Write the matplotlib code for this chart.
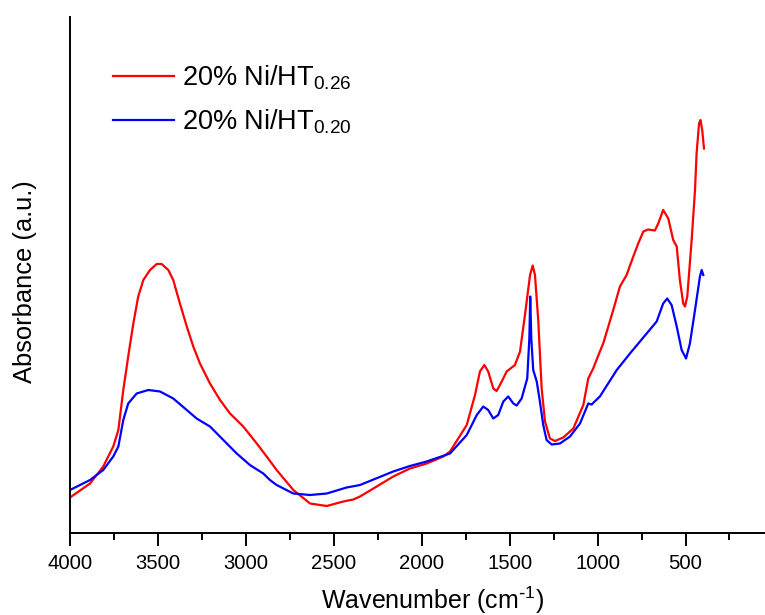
import numpy as np
import matplotlib as mpl
import matplotlib.pyplot as plt
from matplotlib.ticker import MultipleLocator

plt.rcParams['font.family'] = ['Liberation Sans', 'DejaVu Sans']
plt.rcParams['mathtext.default'] = 'regular'

# FTIR spectra, values (absorbance in a.u.)
wn_red = [4000, 3886, 3811, 3754, 3725, 3697, 3669, 3640, 3612, 3583,
          3545, 3507, 3479, 3441, 3413, 3375, 3336, 3299, 3261, 3204,
          3147, 3090, 3015, 2938, 2882, 2825, 2730, 2635, 2540, 2446,
          2389, 2351, 2256, 2162, 2067, 1972, 1877, 1839, 1744, 1697,
          1669, 1644, 1622, 1593, 1574, 1545, 1517, 1470, 1441, 1413,
          1384, 1369, 1356, 1337, 1318, 1299, 1271, 1242, 1195, 1138,
          1081, 1053, 1025, 987, 968, 911, 873, 835, 797, 769,
          740, 712, 674, 655, 627, 598, 570, 550, 532, 513,
          503, 490, 465, 446, 437, 423, 415, 405, 395]
ab_red = [0.071, 0.099, 0.133, 0.173, 0.206, 0.286, 0.353, 0.419, 0.473, 0.506,
          0.526, 0.538, 0.538, 0.526, 0.506, 0.459, 0.413, 0.373, 0.339, 0.299,
          0.266, 0.239, 0.213, 0.179, 0.153, 0.126, 0.086, 0.059, 0.054, 0.063,
          0.067, 0.073, 0.093, 0.113, 0.129, 0.139, 0.153, 0.163, 0.216, 0.276,
          0.323, 0.336, 0.323, 0.289, 0.284, 0.303, 0.323, 0.336, 0.363, 0.436,
          0.516, 0.535, 0.516, 0.423, 0.289, 0.223, 0.189, 0.184, 0.191, 0.209,
          0.256, 0.309, 0.329, 0.363, 0.379, 0.446, 0.493, 0.516, 0.553, 0.579,
          0.603, 0.607, 0.605, 0.619, 0.646, 0.629, 0.586, 0.573, 0.506, 0.459,
          0.453, 0.473, 0.586, 0.686, 0.759, 0.819, 0.826, 0.806, 0.769]

wn_blue = [4000, 3886, 3811, 3754, 3725, 3697, 3669, 3621, 3555, 3488,
           3413, 3336, 3280, 3204, 3128, 3052, 2977, 2901, 2863, 2825,
           2730, 2635, 2540, 2427, 2351, 2162, 2067, 1972, 1839, 1744,
           1687, 1650, 1622, 1593, 1565, 1536, 1508, 1479, 1460, 1432,
           1400, 1388, 1383, 1377, 1366, 1346, 1328, 1309, 1290, 1261,
           1214, 1157, 1100, 1053, 1034, 987, 891, 816, 721, 664,
           627, 604, 579, 550, 522, 497, 475, 446, 418, 408,
           399]
ab_blue = [0.086, 0.106, 0.126, 0.153, 0.173, 0.226, 0.259, 0.279, 0.286, 0.283,
           0.269, 0.246, 0.229, 0.213, 0.186, 0.159, 0.136, 0.119, 0.106, 0.096,
           0.079, 0.076, 0.079, 0.091, 0.096, 0.123, 0.134, 0.143, 0.159, 0.196,
           0.236, 0.253, 0.246, 0.229, 0.236, 0.263, 0.273, 0.259, 0.255, 0.269,
           0.309, 0.389, 0.473, 0.389, 0.326, 0.303, 0.263, 0.216, 0.186, 0.177,
           0.179, 0.193, 0.219, 0.259, 0.257, 0.273, 0.326, 0.359, 0.399, 0.423,
           0.459, 0.469, 0.456, 0.413, 0.366, 0.349, 0.379, 0.446, 0.513, 0.526,
           0.516]

labels = ['20% Ni/HT$_{0.26}$', '20% Ni/HT$_{0.20}$']

fig = plt.figure(figsize=(7.65, 6.15), dpi=100)
ax = fig.add_axes([70 / 765, 82 / 615, 695 / 765, 516 / 615])

ax.plot(wn_red, ab_red, color='#ff0000', lw=1.6, label=labels[0])
ax.plot(wn_blue, ab_blue, color='#0000ff', lw=1.6, label=labels[1])

ax.set_xlim(4000, 48)
ax.set_ylim(0, 1.032)
ax.xaxis.set_major_locator(MultipleLocator(500))
ax.xaxis.set_minor_locator(MultipleLocator(250))
ax.set_yticks([])
ax.spines['top'].set_visible(False)
ax.spines['right'].set_visible(False)
for s in ['left', 'bottom']:
    ax.spines[s].set_linewidth(1.4)
ax.tick_params(axis='x', which='major', direction='out', length=9, width=1.4,
               labelsize=14.6, pad=6)
ax.tick_params(axis='x', which='minor', direction='out', length=5, width=1.4)

ax.set_xlabel(r'Wavenumber (cm$^{\text{-}1}$)', fontsize=18)
ax.xaxis.set_label_coords(0.521, -0.1)
ax.set_ylabel('Absorbance (a.u.)', fontsize=18.4)
ax.yaxis.set_label_coords(-0.0475, 0.487)

ax.legend(loc='upper left', bbox_to_anchor=(0.0265, 0.958), frameon=False,
          fontsize=19.5, handlelength=2.25, handletextpad=0.3, labelspacing=0.6)

fig.savefig('out.png', dpi=100)
